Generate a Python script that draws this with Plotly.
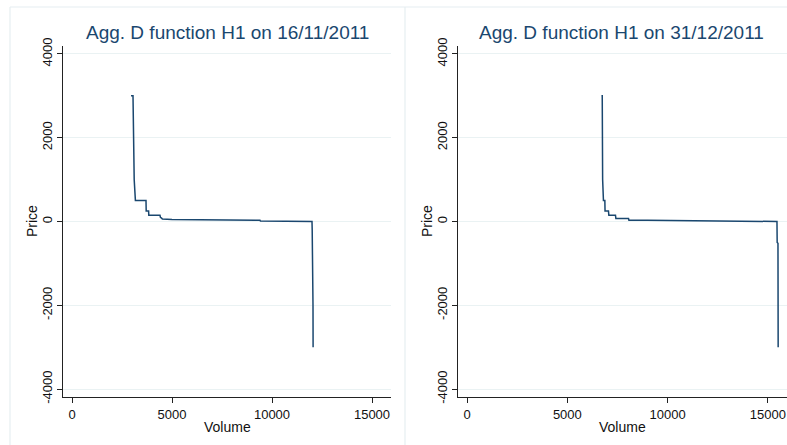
import plotly.graph_objects as go

# ---- data ----
left_title = "Agg. D function H1 on 16/11/2011"
right_title = "Agg. D function H1 on 31/12/2011"
x_title = "Volume"
y_title = "Price"

left_volume = [2950, 3050, 3110, 3170, 3700, 3710, 3830, 3840, 4400, 4420, 4480, 4520,
               5000, 6000, 7000, 8000, 9000, 9400, 9420, 10000, 11000, 11800, 12000,
               12010, 12020, 12030, 12040, 12045, 12050, 12055]
left_price = [3000, 3000, 1000, 500, 500, 250, 250, 150, 150, 100, 80, 60,
              50, 45, 40, 35, 32, 30, 12, 10, 8, 5, 0,
              -200, -500, -800, -990, -1000, -2000, -3000]

right_volume = [6700, 6740, 6760, 6800, 6870, 6880, 7050, 7070, 7400, 7420, 8050, 8070,
                9000, 10000, 12000, 14000, 15400, 15450, 15460, 15500, 15510]
right_price = [3000, 3000, 1000, 500, 500, 250, 250, 150, 150, 70, 70, 30,
               28, 25, 15, 10, 5, 0, -500, -520, -3000]

y_ticks = [-4000, -2000, 0, 2000, 4000]
y_tick_labels = ["-4000", "-2000", "0", "2000", "4000"]
x_ticks = [0, 5000, 10000, 15000]
x_tick_labels = ["0", "5000", "10000", "15000"]

LINE = "#1a476f"
GRID = "#eaf2f3"
FONT = "Liberation Sans, Arial, sans-serif"

fig = go.Figure()
fig.add_trace(go.Scatter(x=left_volume, y=left_price, mode="lines",
                         line=dict(color=LINE, width=1.5), xaxis="x", yaxis="y",
                         showlegend=False))
fig.add_trace(go.Scatter(x=right_volume, y=right_price, mode="lines",
                         line=dict(color=LINE, width=1.5), xaxis="x2", yaxis="y2",
                         showlegend=False))

W, H = 787, 445
ydom = [1 - 397 / H, 1 - 46 / H]
xdom1 = [63 / W, 391 / W]
xdom2 = [458 / W, 1.0]

def xaxis(dom, anchor):
    return dict(domain=dom, anchor=anchor, range=[-450, 15950], automargin=False,
                tickvals=x_ticks, ticktext=x_tick_labels,
                ticks="outside", ticklen=5, tickcolor="#222", showgrid=False,
                zeroline=False, showline=True, linecolor="#222", linewidth=1,
                tickfont=dict(family=FONT, size=13, color="#111"))

def yaxis(anchor):
    return dict(domain=ydom, anchor=anchor, range=[-4190, 4190], automargin=False,
                tickvals=y_ticks, ticktext=y_tick_labels,
                tickangle=-90, ticks="outside", ticklen=5, tickcolor="#222",
                showgrid=True, gridcolor=GRID, gridwidth=1.2,
                zeroline=False, showline=True, linecolor="#222", linewidth=1,
                tickfont=dict(family=FONT, size=13, color="#111"))

ymid = 1 - 221 / H
txt = dict(family=FONT, size=14, color="#111")
fig.update_layout(
    template="none",
    width=W, height=H, autosize=False,
    margin=dict(l=0, r=0, t=0, b=0, pad=0),
    paper_bgcolor="white", plot_bgcolor="white",
    xaxis=xaxis(xdom1, "y"), yaxis=yaxis("x"),
    xaxis2=xaxis(xdom2, "y2"), yaxis2=yaxis("x2"),
    shapes=[
        dict(type="line", xref="paper", yref="paper", x0=10 / W, x1=1.0,
             y0=1 - 7 / H, y1=1 - 7 / H, line=dict(color="#e6eef1", width=1.2),
             layer="below"),
        dict(type="line", xref="paper", yref="paper", x0=10 / W, x1=10 / W,
             y0=0, y1=1 - 7 / H, line=dict(color="#e6eef1", width=1.2),
             layer="below"),
        dict(type="line", xref="paper", yref="paper", x0=405 / W, x1=405 / W,
             y0=0, y1=1 - 7 / H, line=dict(color="#e6eef1", width=1.2),
             layer="below"),
    ],
    annotations=[
        dict(text=left_title, xref="paper", yref="paper", x=sum(xdom1) / 2,
             y=1 - 32 / H, showarrow=False, xanchor="center", yanchor="middle",
             font=dict(family=FONT, size=19, color=LINE)),
        dict(text=right_title, xref="paper", yref="paper", x=(458 + 785) / 2 / W,
             y=1 - 32 / H, showarrow=False, xanchor="center", yanchor="middle",
             font=dict(family=FONT, size=19, color=LINE)),
        dict(text=y_title, xref="paper", yref="paper", x=32 / W, y=ymid,
             textangle=-90, showarrow=False, xanchor="center", yanchor="middle", font=txt),
        dict(text=y_title, xref="paper", yref="paper", x=427 / W, y=ymid,
             textangle=-90, showarrow=False, xanchor="center", yanchor="middle", font=txt),
        dict(text=x_title, xref="paper", yref="paper", x=sum(xdom1) / 2, y=1 - 427 / H,
             showarrow=False, xanchor="center", yanchor="middle", font=txt),
        dict(text=x_title, xref="paper", yref="paper", x=(458 + 787) / 2 / W, y=1 - 427 / H,
             showarrow=False, xanchor="center", yanchor="middle", font=txt),
    ],
)

fig.write_html("out.html", config={"displayModeBar": False},
               post_script="document.body.style.margin='0px';")
